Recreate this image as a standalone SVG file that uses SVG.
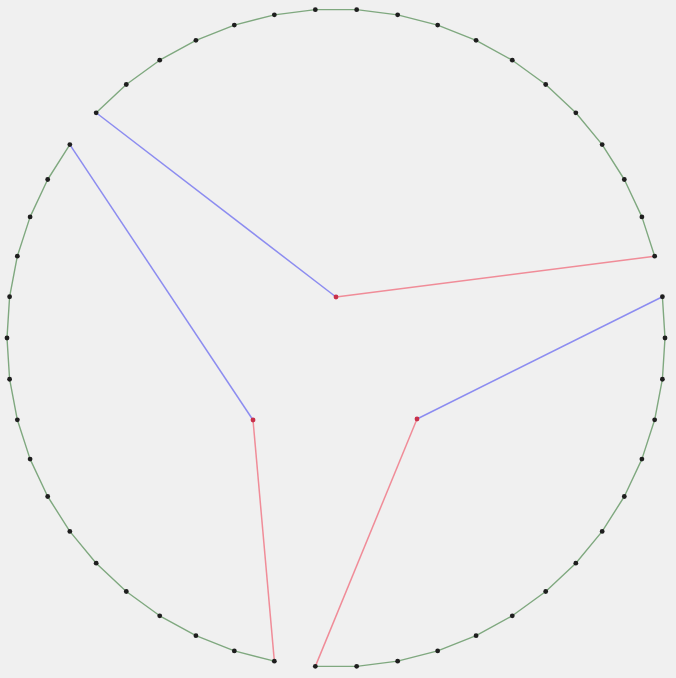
<svg xmlns="http://www.w3.org/2000/svg" width="676" height="678" viewBox="0 0 676 678">
<style>
.bg{fill:#f0f0f0}
.arc{fill:none;stroke:#7fa87f;stroke-width:1.4;stroke-linejoin:round}
.dot{fill:#1e1e1e}
.ctr{fill:#c8304a}
.blue{stroke:#8c8cf0;stroke-width:1.5;fill:none}
.red{stroke:#f08c98;stroke-width:1.5;fill:none}
</style>
<defs>
<circle id="d" r="2.4" class="dot"/>
</defs>
<rect class="bg" x="0" y="0" width="676" height="678"/>
<g id="connectors">
<line class="blue" x1="96.17" y1="112.78" x2="336" y2="297"/>
<line class="red" x1="336" y1="297" x2="654.66" y2="256.18"/>
<line class="blue" x1="69.83" y1="144.62" x2="253" y2="420"/>
<line class="red" x1="253" y1="420" x2="274.35" y2="661.17"/>
<line class="blue" x1="662.40" y1="296.77" x2="417" y2="419"/>
<line class="red" x1="417" y1="419" x2="315.34" y2="666.35"/>
</g>
<g id="sector-top">
<polyline class="arc" points="654.66,256.18 641.90,216.89 624.31,179.50 602.17,144.62 575.83,112.78 545.71,84.50 512.29,60.22 476.08,40.31 437.67,25.10 397.65,14.83 356.66,9.65 315.34,9.65 274.35,14.83 234.33,25.10 195.92,40.31 159.71,60.22 126.29,84.50 96.17,112.78"/>
<use href="#d" x="654.66" y="256.18"/><use href="#d" x="641.90" y="216.89"/><use href="#d" x="624.31" y="179.50"/><use href="#d" x="602.17" y="144.62"/><use href="#d" x="575.83" y="112.78"/><use href="#d" x="545.71" y="84.50"/><use href="#d" x="512.29" y="60.22"/><use href="#d" x="476.08" y="40.31"/><use href="#d" x="437.67" y="25.10"/><use href="#d" x="397.65" y="14.83"/><use href="#d" x="356.66" y="9.65"/><use href="#d" x="315.34" y="9.65"/><use href="#d" x="274.35" y="14.83"/><use href="#d" x="234.33" y="25.10"/><use href="#d" x="195.92" y="40.31"/><use href="#d" x="159.71" y="60.22"/><use href="#d" x="126.29" y="84.50"/><use href="#d" x="96.17" y="112.78"/>
<circle class="ctr" cx="336" cy="297" r="2.4"/>
</g>
<g id="sector-left">
<polyline class="arc" points="69.83,144.62 47.69,179.50 30.10,216.89 17.34,256.18 9.60,296.77 7,338 9.60,379.23 17.34,419.82 30.10,459.11 47.69,496.50 69.83,531.38 96.17,563.22 126.29,591.50 159.71,615.78 195.92,635.69 234.33,650.90 274.35,661.17"/>
<use href="#d" x="69.83" y="144.62"/><use href="#d" x="47.69" y="179.50"/><use href="#d" x="30.10" y="216.89"/><use href="#d" x="17.34" y="256.18"/><use href="#d" x="9.60" y="296.77"/><use href="#d" x="7" y="338"/><use href="#d" x="9.60" y="379.23"/><use href="#d" x="17.34" y="419.82"/><use href="#d" x="30.10" y="459.11"/><use href="#d" x="47.69" y="496.50"/><use href="#d" x="69.83" y="531.38"/><use href="#d" x="96.17" y="563.22"/><use href="#d" x="126.29" y="591.50"/><use href="#d" x="159.71" y="615.78"/><use href="#d" x="195.92" y="635.69"/><use href="#d" x="234.33" y="650.90"/><use href="#d" x="274.35" y="661.17"/>
<circle class="ctr" cx="253" cy="420" r="2.4"/>
</g>
<g id="sector-right">
<polyline class="arc" points="315.34,666.35 356.66,666.35 397.65,661.17 437.67,650.90 476.08,635.69 512.29,615.78 545.71,591.50 575.83,563.22 602.17,531.38 624.31,496.50 641.90,459.11 654.66,419.82 662.40,379.23 665,338 662.40,296.77"/>
<use href="#d" x="315.34" y="666.35"/><use href="#d" x="356.66" y="666.35"/><use href="#d" x="397.65" y="661.17"/><use href="#d" x="437.67" y="650.90"/><use href="#d" x="476.08" y="635.69"/><use href="#d" x="512.29" y="615.78"/><use href="#d" x="545.71" y="591.50"/><use href="#d" x="575.83" y="563.22"/><use href="#d" x="602.17" y="531.38"/><use href="#d" x="624.31" y="496.50"/><use href="#d" x="641.90" y="459.11"/><use href="#d" x="654.66" y="419.82"/><use href="#d" x="662.40" y="379.23"/><use href="#d" x="665" y="338"/><use href="#d" x="662.40" y="296.77"/>
<circle class="ctr" cx="417" cy="419" r="2.4"/>
</g>
</svg>
